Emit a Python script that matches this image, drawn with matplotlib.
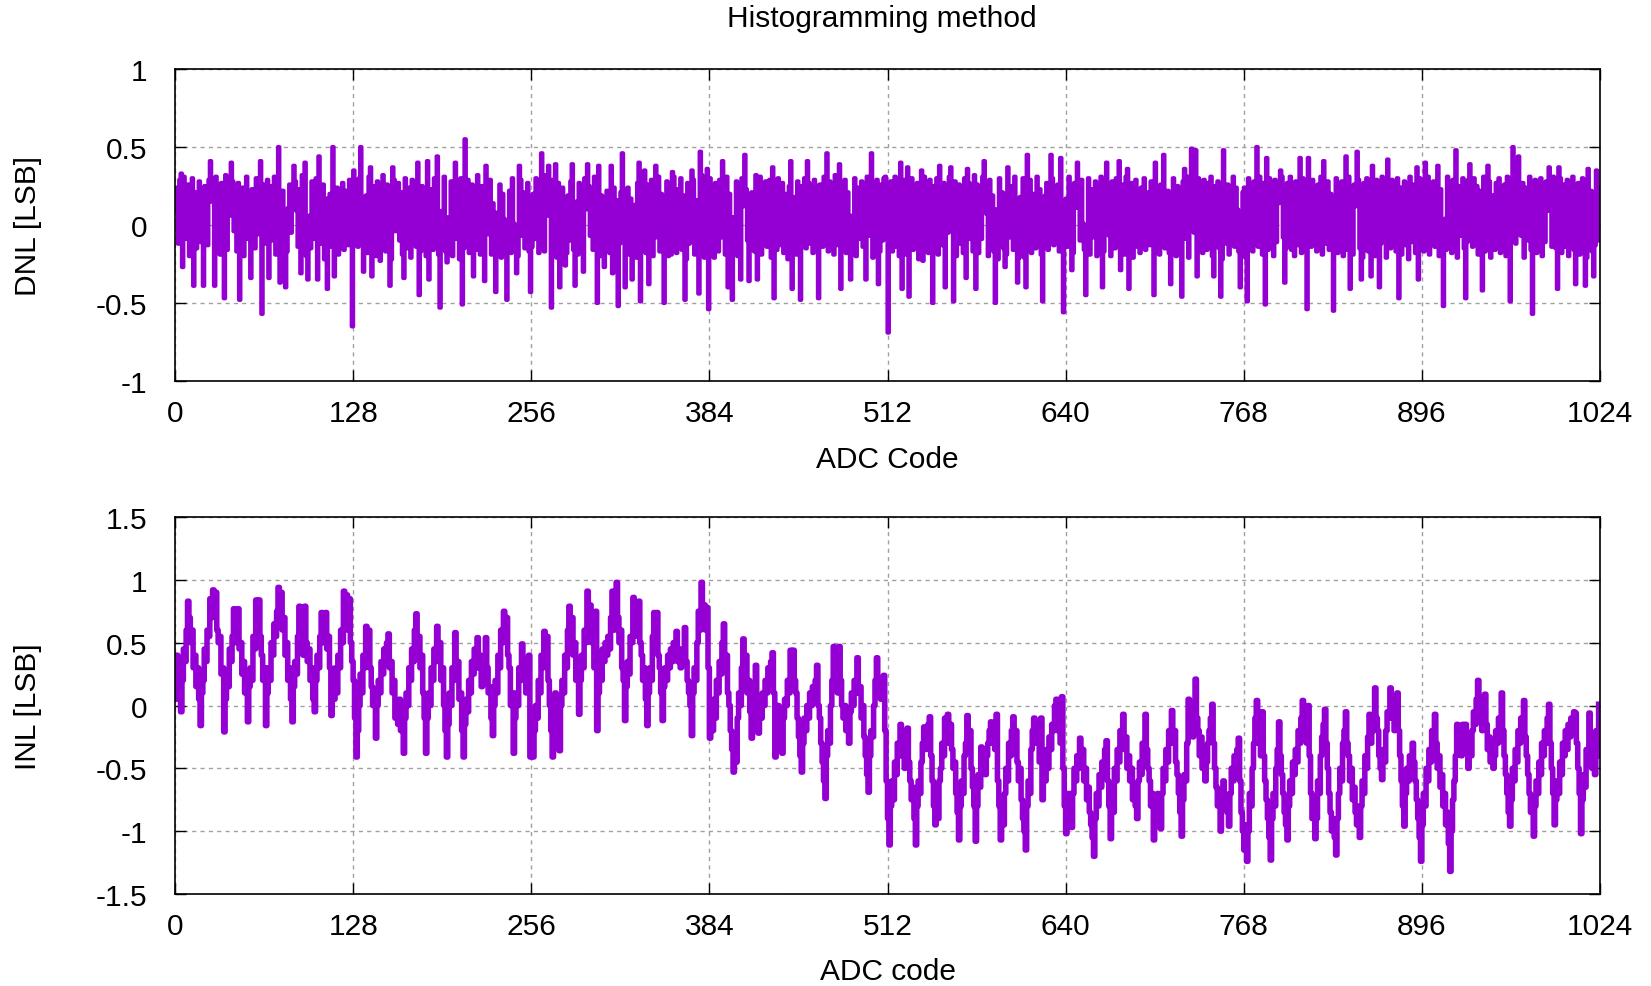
import numpy as np
import matplotlib
matplotlib.use("Agg")
import matplotlib.pyplot as plt

# DNL / INL, in hundredths of an LSB, one row per 32 codes
dnl_base = [
    10, 24, -12, 29, 4, -18, 31, 14, -9, 26, -20, 17, 30, -6, 21, -15, 9, 28, -11, 19, -21, 25, 2, -13, 29, -17, 15, 23, -8, 31, -14, 12,
    -19, 27, 11, -7, 32, -16, 20, 6, -22, 28, -4, 15, -17, 27, 13, -12, 24, -20, 8, 31, -9, 17, -18, 23, 4, -15, 30, -6, 22, -18, 13, 26,
    -12, 19, 29, -16, 7, 25, -10, 31, -19, 14, 2, 27, -13, 22, -8, 30, -17, 11, 26, -5, 18, -21, 28, 9, -14, 23, -7, 32, -11, 16, -20, 25,
    6, -15, 28, 13, -9, 30, -18, 21, 4, -12, 26, -22, 17, 29, -6, 20, -14, 10, 31, -10, 24, -19, 15, -3, 27, -16, 22, 8, -13, 29, -8, 18,
    -21, 24, 7, -14, 30, 16, -11, 27, -5, 19, -18, 31, 3, -16, 25, 11, -20, 28, -7, 22, -13, 32, 5, -17, 26, -9, 20, -22, 14, 29, -4, 17,
    27, -10, 21, -19, 12, 30, -15, 24, 1, -21, 29, -8, 18, -14, 31, 6, -17, 25, -3, 20, -20, 28, 10, -12, 23, -16, 30, -6, 17, -19, 26, 9,
    -8, 31, -17, 22, 5, -13, 28, -20, 16, 27, -9, 19, -22, 30, 7, -15, 24, -11, 29, -18, 13, 26, -4, 21, -16, 32, 2, -19, 25, -10, 18, -13,
    23, -6, 29, -19, 14, -11, 31, 8, -16, 26, -21, 20, 4, -14, 28, -9, 22, -18, 30, 1, -12, 25, -20, 17, 29, -7, 21, -15, 11, 27, -17, 24,
    -14, 20, -9, 30, 11, -20, 26, -5, 18, -17, 32, 6, -12, 23, -19, 29, -3, 16, -21, 27, 9, -15, 24, -8, 31, -18, 19, -10, 28, 3, -16, 22,
    15, -19, 27, -4, 21, -13, 30, 10, -22, 25, -7, 18, -16, 31, 5, -11, 28, -20, 19, -9, 26, -14, 22, 7, -18, 29, -6, 24, -21, 16, 30, -12,
    21, -16, 8, 29, -12, 24, -19, 17, 31, -7, 13, -21, 27, 2, -15, 30, -10, 22, -18, 26, 6, -13, 29, -20, 18, 11, -8, 31, -17, 20, -11, 27,
    -9, 28, -20, 15, 26, -14, 31, 4, -18, 23, -6, 30, -16, 19, 9, -22, 27, -12, 21, -3, 29, -19, 16, -10, 25, -15, 32, 7, -21, 24, -8, 19,
    30, -13, 18, -21, 27, 3, -17, 29, -8, 22, 14, -19, 31, -11, 20, -16, 26, 5, -14, 28, -20, 17, -7, 30, 12, -18, 23, -10, 27, -15, 21, -4,
    -17, 26, 10, -12, 31, -19, 22, -5, 28, -14, 16, 29, -21, 24, -9, 19, -16, 30, 1, -13, 27, -18, 20, 8, -22, 25, -11, 31, -7, 18, -19, 28,
    12, -20, 25, -8, 30, -15, 19, 27, -12, 21, -18, 29, -4, 17, -21, 26, 9, -14, 31, -10, 23, -17, 28, -6, 20, -19, 32, 3, -13, 25, -16, 15,
    -5, 29, -18, 21, -11, 27, 6, -16, 30, -20, 18, 24, -9, 28, -14, 22, -19, 31, 11, -7, 25, -21, 17, -12, 29, 4, -17, 26, -10, 30, -15, 20,
    19, -11, 28, -17, 9, 31, -14, 22, -20, 26, 3, -12, 29, -19, 16, 24, -8, 30, -16, 21, -10, 27, -22, 18, 7, -15, 31, -6, 23, -18, 29, -9,
    -16, 25, -7, 30, -19, 20, 12, -13, 27, -21, 23, -5, 31, -15, 18, -10, 28, -20, 14, 26, -12, 22, -18, 30, 2, -14, 27, -9, 21, -17, 32, -11,
    26, -18, 14, -9, 31, -13, 24, 7, -20, 29, -11, 19, -17, 27, 10, -22, 30, -6, 21, -15, 28, -19, 16, -8, 25, 13, -16, 31, -12, 22, -21, 18,
    -10, 30, -21, 17, 25, -12, 29, -18, 20, 4, -15, 31, -7, 23, -19, 28, -11, 19, 27, -16, 9, -20, 30, -13, 21, -6, 26, -17, 32, -9, 15, -14,
    17, -14, 31, -6, 20, -18, 27, 11, -21, 24, -10, 29, 1, -16, 26, -12, 30, -19, 18, 23, -8, 28, -20, 15, -11, 31, 5, -17, 25, -13, 20, -7,
    -20, 28, 6, -15, 30, -9, 22, -17, 26, 13, -19, 31, -12, 18, -6, 27, -21, 20, 29, -14, 11, -18, 24, -10, 30, -16, 21, 8, -13, 28, -11, 23,
    29, -12, 20, -19, 26, -7, 31, -15, 14, 22, -18, 27, -10, 30, 3, -20, 25, -13, 19, -17, 28, 12, -9, 31, -21, 23, -14, 26, -5, 20, -18, 30,
    -13, 22, -18, 29, 8, -16, 27, -11, 31, -20, 17, 25, -8, 28, -15, 21, -22, 30, 2, -12, 26, -19, 19, -7, 31, -14, 24, 10, -17, 27, -9, 21,
    24, -21, 16, 30, -10, 25, -17, 28, -6, 19, -14, 31, 9, -19, 27, -12, 22, -16, 30, -4, 18, -20, 29, -11, 26, 14, -18, 31, -8, 23, -15, 27,
    -6, 31, -16, 21, -20, 28, 10, -13, 25, -18, 30, -9, 19, -21, 27, 5, -14, 29, -11, 22, -17, 26, -7, 31, -19, 17, 24, -12, 28, -16, 20, -10,
    22, -9, 30, -18, 15, -13, 28, -20, 24, 7, -16, 31, -11, 20, -19, 26, 12, -8, 29, -15, 21, -21, 27, -10, 30, -17, 19, 3, -14, 25, -20, 29,
    -18, 27, -12, 31, -7, 20, -21, 26, 14, -15, 29, -10, 22, -17, 30, -6, 24, -19, 17, 28, -13, 21, -22, 31, 8, -11, 26, -18, 23, -9, 30, -16,
    14, -17, 26, -11, 31, -19, 21, -8, 28, -14, 19, 30, -20, 23, -12, 27, 4, -16, 31, -10, 22, -18, 29, -13, 20, -21, 25, 11, -7, 30, -15, 24,
    -11, 29, -20, 18, -14, 30, -8, 25, -19, 22, 6, -13, 31, -17, 24, -10, 28, -21, 19, 15, -16, 27, -9, 30, -18, 21, -12, 26, -20, 31, 2, -14,
    28, -15, 22, -12, 30, -19, 17, -7, 27, -21, 24, 13, -10, 31, -16, 20, -13, 29, -18, 25, -6, 30, -20, 18, -11, 28, 9, -17, 23, -14, 31, -9,
    -15, 23, -10, 30, -18, 26, 5, -14, 29, -20, 21, -8, 31, -16, 24, -12, 27, -19, 18, 30, -11, 25, -21, 28, -7, 22, -17, 31, -13, 26, -10, 24,
]

# the tall spikes sticking out of the DNL band: (code, hundredths)
dnl_spikes = [
    (4, 33), (25, 41), (40, 40), (61, 41), (74, 50), (85, 38), (93, 40), (103, 44), (113, 50), (128, 35),
    (133, 50), (140, 37), (156, 37), (174, 40), (181, 41), (188, 44), (201, 40), (208, 55), (223, 38), (247, 38),
    (263, 46), (268, 38), (273, 39), (285, 39), (296, 39), (304, 38), (313, 38), (321, 46), (333, 40), (337, 35),
    (345, 38), (357, 34), (371, 35), (377, 47), (382, 36), (393, 41), (409, 45), (417, 32), (429, 37), (442, 41),
    (454, 41), (468, 46), (477, 39), (500, 46), (510, 31), (521, 40), (526, 37), (536, 35), (549, 38), (557, 37),
    (569, 36), (581, 41), (598, 37), (612, 45), (629, 45), (636, 43), (648, 40), (669, 40), (678, 41), (684, 36),
    (704, 40), (710, 45), (725, 36), (730, 49), (733, 48), (753, 48), (777, 50), (784, 43), (794, 35), (808, 43),
    (814, 43), (825, 41), (841, 44), (849, 47), (860, 38), (871, 42), (892, 37), (898, 40), (907, 38), (920, 48),
    (930, 39), (943, 38), (961, 50), (965, 44), (987, 37), (994, 37), (1015, 36), (1021, 35),
    (5, -27), (13, -39), (20, -39), (28, -39), (35, -47), (46, -48), (54, -34), (62, -57), (67, -34), (75, -37),
    (79, -40), (90, -31), (95, -35), (102, -35), (109, -41), (114, -33), (127, -65), (135, -30), (141, -33), (147, -23),
    (154, -39), (164, -34), (175, -45), (182, -35), (190, -53), (195, -24), (206, -51), (214, -33), (222, -36), (230, -43),
    (238, -48), (245, -31), (255, -43), (261, -18), (270, -53), (276, -40), (280, -26), (287, -39), (293, -30), (303, -50),
    (308, -27), (314, -31), (318, -52), (323, -40), (328, -35), (334, -49), (340, -38), (351, -50), (356, -19), (366, -48),
    (376, -44), (383, -54), (397, -40), (400, -48), (406, -35), (412, -36), (418, -35), (430, -47), (443, -41), (449, -48),
    (462, -47), (478, -41), (485, -35), (496, -35), (505, -38), (512, -69), (522, -41), (527, -46), (537, -23), (544, -50),
    (553, -40), (559, -49), (568, -34), (575, -41), (589, -50), (596, -27), (605, -37), (611, -40), (623, -49), (638, -56),
    (644, -29), (654, -45), (666, -40), (679, -29), (685, -41), (703, -45), (715, -38), (723, -46), (734, -33), (746, -33),
    (751, -46), (765, -40), (770, -49), (783, -51), (797, -37), (813, -54), (832, -55), (844, -41), (852, -35), (859, -33),
    (865, -40), (879, -47), (893, -35), (911, -52), (927, -47), (939, -42), (959, -49), (975, -57), (993, -41), (1006, -38),
    (1013, -39), (1019, -33),
]

inl_vals = [
    5, 40, 25, 10, -5, 20, 45, 35, 60, 83, 70, 50, 60, 30, 40, 15, 30, 5, -16, 10, 20, 45, 35, 60, 55, 85, 70, 92, 75, 90, 60, 50,
    55, 25, 30, -21, 5, 25, 15, 45, 35, 55, 77, 50, 65, 77, 45, 50, 25, 35, 10, 20, -13, 15, 30, 20, 55, 45, 84, 70, 84, 55, 40, 20,
    30, -16, 10, 30, 20, 50, 40, 65, 55, 75, 94, 70, 90, 60, 70, 40, 50, 20, 30, 5, -13, 15, 35, 25, 55, 79, 55, 70, 40, 79, 50, 35,
    45, 20, 30, 5, -5, 20, 40, 30, 55, 74, 50, 65, 74, 45, 55, 30, -8, 20, 5, 30, 10, 40, 30, 60, 50, 91, 70, 88, 60, 85, 50, 35,
    20, -10, -41, -20, 0, 25, 10, 40, 30, 63, 45, 60, 30, 15, 0, 10, -26, 0, 20, 10, 35, 25, 45, 35, 50, 57, 30, 35, 10, 20, -10, 0,
    -15, 5, -20, -10, -38, -10, 10, 0, 30, 20, 45, 35, 60, 73, 50, 55, 30, 40, 10, -10, -38, -10, 10, 0, 30, 20, 45, 35, 63, 40, 50, 20,
    30, 0, -20, -41, -15, 10, 0, 30, 20, 58, 30, 35, 5, 10, -20, -41, -15, 5, -5, 20, 10, 35, 25, 45, 30, 54, 30, 40, 15, 30, 20, 54,
    30, 10, 15, -10, -24, 0, 20, 10, 40, 30, 60, 50, 75, 55, 70, 40, 30, 0, 10, -38, -10, 10, 0, 30, 20, 49, 30, 35, 10, 20, 40, -41,
    -30, -41, -20, 0, -10, 20, 10, 40, 30, 59, 40, 55, 20, 0, -20, -41, -10, 10, -15, -5, -36, 0, 20, 10, 40, 30, 60, 79, 55, 70, 40, 50,
    20, 30, -7, 20, 40, 30, 60, 50, 91, 70, 80, 50, 60, 30, 75, -20, 10, 30, 20, 45, 35, 50, 40, 55, 45, 70, 91, 60, 75, 98, 70, 50,
    60, 30, 20, -12, 15, 35, 25, 55, 50, 86, 60, 70, 55, 83, 50, 40, 20, 30, 5, -16, 10, 30, 20, 55, 74, 50, 74, 40, 30, 10, -12, 15,
    30, 20, 40, 30, 45, 35, 50, 40, 59, 35, 45, 30, 40, 35, 62, 35, 20, 10, 0, -24, 10, 30, 20, 50, 75, 60, 98, 70, 80, 60, 78, 30,
    -26, 0, -20, 5, -10, 20, 10, 35, 25, 50, 65, 30, 40, 10, 0, -20, -35, -53, -30, -45, -10, 10, 0, 30, 53, 30, 40, 10, 20, -5, -26, 0,
    10, 32, 0, -22, 0, -10, 10, 0, 20, 10, 30, 20, 35, 42, 10, -41, -15, 0, -20, -10, -38, -10, 5, 0, 20, 10, 44, 25, 44, 20, 10, -10,
    -25, -40, -53, -30, -10, -20, 0, -10, 10, 0, 15, 5, 20, 32, 0, -10, -30, -45, -60, -74, -40, -20, -30, 0, 20, 47, 20, 30, 10, 47, 20, 0,
    -10, 0, -20, -10, -30, -5, 10, 0, 20, 10, 38, 10, 15, -10, 0, -25, -40, -55, -69, -40, -20, -25, 0, 20, 38, 10, 20, 5, 15, 24, -20, -60,
    -90, -111, -80, -60, -75, -45, -55, -30, -40, -15, -40, -30, -50, -35, -18, -45, -60, -75, -65, -90, -111, -80, -60, -70, -45, -30, -17, -35, -25, -15, -9, -40,
    -60, -80, -95, -75, -90, -60, -50, -30, -40, -10, -25, -7, -30, -15, -35, -50, -45, -70, -85, -107, -80, -60, -70, -40, -30, -8, -35, -20, -50, -65, -80, -108,
    -80, -55, -65, -33, -50, -35, -55, -40, -30, -20, -13, -30, -15, -35, -7, -60, -80, -107, -85, -95, -70, -50, -60, -30, -40, -20, -9, -30, -20, -45, -60, -50,
    -75, -90, -100, -115, -80, -60, -70, -35, -20, -10, -30, -15, -25, -45, -10, -75, -50, -60, -35, -50, -25, -35, -15, -20, 0, 5, -20, -10, -30, 7, -50, -80,
    -102, -70, -85, -70, -97, -70, -50, -60, -40, -50, -26, -45, -35, -60, -50, -75, -65, -85, -95, -105, -120, -90, -70, -80, -55, -65, -45, -55, -35, -28, -60, -80,
    -106, -75, -85, -50, -60, -35, -45, -20, -30, -7, -35, -25, -50, -40, -60, -50, -75, -65, -80, -90, -60, -45, -55, -30, -40, -7, -35, -50, -60, -80, -70, -107,
    -80, -90, -70, -80, -98, -70, -50, -60, -35, -45, -20, -30, -4, -30, -20, -45, -55, -70, -85, -104, -75, -55, -60, -30, 5, -20, -5, -25, -10, 21, -10, -20,
    -40, -25, -50, -35, -60, -45, -30, -20, -10, 1, -30, -50, -65, -80, -70, -100, -75, -60, -70, -80, -85, -96, -70, -50, -60, -40, -50, -35, -26, -60, -85, -100,
    -115, -95, -124, -100, -70, -80, -50, -30, -10, 4, -30, -20, -40, -5, -40, -60, -75, -90, -105, -123, -90, -70, -80, -50, -35, -13, -40, -55, -70, -85, -95, -107,
    -80, -60, -70, -45, -55, -35, -45, -20, -30, -10, 4, -20, -10, -30, 0, -40, -70, -90, -80, -106, -90, -60, -70, -40, -25, -15, -3, -30, -50, -70, -85, -100,
    -90, -105, -119, -90, -70, -50, -60, -30, -20, -5, -30, -40, -60, -50, -75, -65, -85, -95, -80, -105, -80, -60, -70, -40, -50, -25, -7, -30, -10, -20, 14, -10,
    -20, -40, -50, -59, -35, -45, -20, -5, -10, 14, -10, 0, -20, 5, 10, -20, -40, -60, -80, -96, -70, -50, -60, -40, -50, -30, -45, -60, -75, -90, -105, -124,
    -95, -70, -80, -50, -60, -35, -45, -20, -30, -7, -30, -50, -40, -65, -55, -80, -70, -95, -85, -110, -132, -100, -75, -60, -40, -15, -35, -25, -40, -15, -30, -15,
    -35, -50, -30, -40, -20, -5, -15, 5, 20, -5, 0, -20, -5, 9, -15, -35, -25, -45, -30, -50, -40, -20, -30, -10, -20, 10, -20, -40, -55, -70, -85, -96,
    -75, -50, -60, -35, -45, -20, -30, -10, -15, 4, -25, -40, -55, -70, -85, -75, -104, -80, -60, -70, -45, -55, -30, -40, -20, -30, -10, 1, -30, -50, -70, -95,
    -75, -60, -70, -45, -55, -30, -40, -20, -35, -15, -25, -10, -20, -5, -6, -30, -50, -70, -102, -75, -55, -65, -35, -45, -6, -30, -50, -35, -55, -20, -40, 1,
]

xticks = [0, 128, 256, 384, 512, 640, 768, 896, 1024]
dnl_yticks = [-1, -0.5, 0, 0.5, 1]
inl_yticks = [-1.5, -1, -0.5, 0, 0.5, 1, 1.5]

codes = np.arange(len(inl_vals))
dnl = np.array(dnl_base, dtype=float)
for c, v in dnl_spikes:
    dnl[c] = v
dnl = dnl / 100.0
inl = np.array(inl_vals, dtype=float) / 100.0

plt.rcParams['font.family'] = ['Liberation Sans', 'DejaVu Sans']
fs = 21.5

purple = '#9400d3'
W, H = 1651, 987
fig = plt.figure(figsize=(W / 100, H / 100), dpi=100)

# axes placed in pixel terms of the reference
ax1 = fig.add_axes([175 / W, 1 - 382 / H, 1425 / W, 312 / H])
ax2 = fig.add_axes([175 / W, 1 - 895 / H, 1425 / W, 377 / H])


def style(ax, yticks, ylim, xlabel, ylabel, xlab_y):
    ax.set_xlim(0, 1024)
    ax.set_ylim(*ylim)
    ax.set_xticks(xticks)
    ax.set_yticks(yticks)
    ax.set_yticklabels(['%g' % t for t in yticks])
    ax.tick_params(direction='in', length=8, width=1, top=True, right=True,
                   labelsize=fs, colors='black')
    ax.tick_params(axis='y', pad=20)
    ax.tick_params(axis='x', pad=13)
    ax.grid(True, color='#a0a0a0', linestyle=(0, (3, 3)), linewidth=1)
    ax.set_axisbelow(True)
    for s in ax.spines.values():
        s.set_linewidth(1.2)
    ax.set_xlabel(xlabel, fontsize=fs)
    ax.set_ylabel(ylabel, fontsize=fs)
    ax.xaxis.set_label_coords(0.5, xlab_y)
    ax.xaxis.label.set_va('center')
    ax.yaxis.set_label_coords(-0.103, 0.5)
    ax.yaxis.label.set_va('center')


ax1.step(codes, dnl, where='post', color=purple, lw=3.0)
style(ax1, dnl_yticks, (-1, 1), 'ADC Code', 'DNL [LSB]', -0.251)

ax2.step(codes, inl, where='post', color=purple, lw=4.0)
style(ax2, inl_yticks, (-1.5, 1.5), 'ADC code', 'INL [LSB]', -0.204)

fig.text(882 / W, 1 - 19 / H, 'Histogramming method', ha='center', va='center', fontsize=fs)

fig.savefig('out.png', dpi=100)
